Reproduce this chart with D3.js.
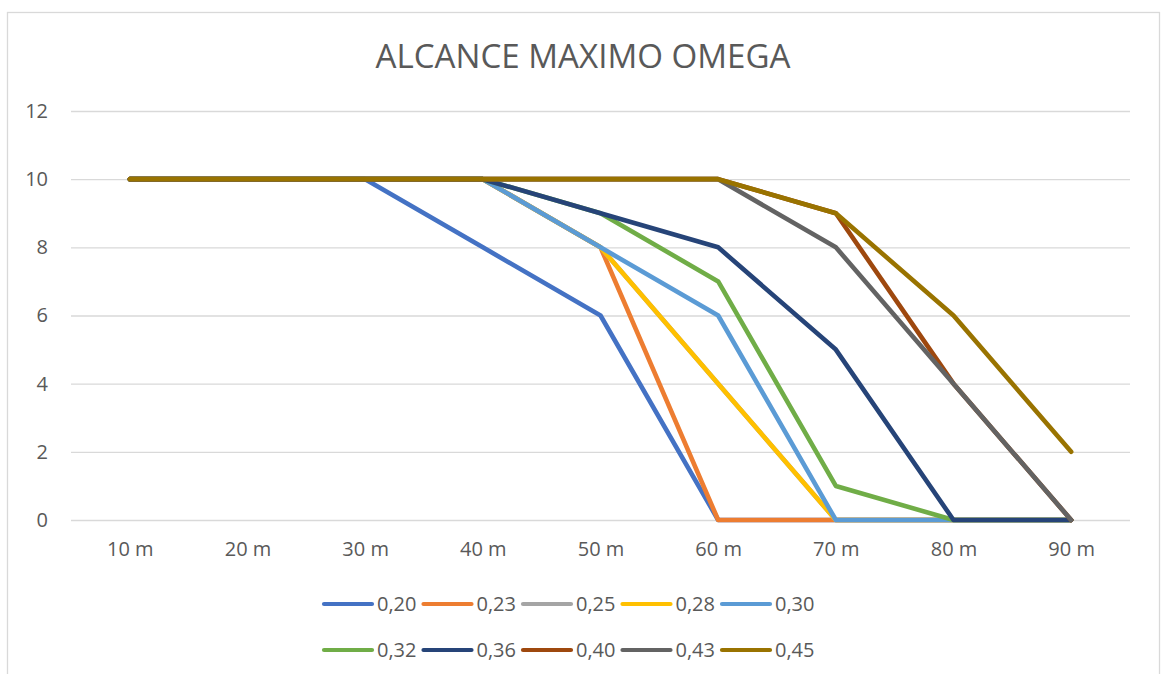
<!DOCTYPE html>
<html>
<head>
<meta charset="utf-8">
<script src="https://cdn.jsdelivr.net/npm/d3@7"></script>
<style>
html,body{margin:0;padding:0;background:#fff;}
svg{display:block;font-family:"Open Sans",sans-serif;}
</style>
</head>
<body>
<svg id="chart" width="1162" height="674"></svg>
<script>
const title = "ALCANCE MAXIMO OMEGA";
const categories = ["10 m","20 m","30 m","40 m","50 m","60 m","70 m","80 m","90 m"];
const yTicks = [0,2,4,6,8,10,12];
const seriesNames = ["0,20","0,23","0,25","0,28","0,30","0,32","0,36","0,40","0,43","0,45"];
const s020 = [10,10,10,8,6,0,0,0,0];
const s023 = [10,10,10,10,8,0,0,0,0];
const s025 = [10,10,10,10,8,4,0,0,0];
const s028 = [10,10,10,10,8,4,0,0,0];
const s030 = [10,10,10,10,8,6,0,0,0];
const s032 = [10,10,10,10,9,7,1,0,0];
const s036 = [10,10,10,10,9,8,5,0,0];
const s040 = [10,10,10,10,10,10,9,4,0];
const s043 = [10,10,10,10,10,10,8,4,0];
const s045 = [10,10,10,10,10,10,9,6,2];
const seriesValues = [s020,s023,s025,s028,s030,s032,s036,s040,s043,s045];
const colors = ["#4472C4","#ED7D31","#A5A5A5","#FFC000","#5B9BD5","#70AD47","#264478","#9E480E","#636363","#997300"];

const svg = d3.select("#chart");
const textColor = "#595959";

// outer border
svg.append("rect").attr("x",7.5).attr("y",12.5).attr("width",1152).attr("height",700)
  .attr("fill","none").attr("stroke","#D9D9D9").attr("stroke-width",1.3);

// title
const t = svg.append("text").attr("x",583).attr("y",68).attr("text-anchor","middle")
  .attr("fill",textColor).style("font-size","34px").text(title);
const tw = t.node().getComputedTextLength();
t.style("font-size",(34*415/tw).toFixed(2)+"px");

const x = d3.scalePoint().domain(categories).range([71,1130]).padding(0.5);
const y = d3.scaleLinear().domain([0,12]).range([520,111]);

// gridlines
const yAxis = d3.axisLeft(y).tickValues(yTicks).tickSize(-(1130-71)).tickPadding(23);
const gy = svg.append("g").attr("transform","translate(71,0)").call(yAxis);
gy.select(".domain").remove();
gy.selectAll(".tick line").attr("stroke","#D9D9D9").attr("stroke-width",1.3);
gy.selectAll(".tick text").attr("fill",textColor).style("font-size","20px").style("font-family","Open Sans");

const xAxis = d3.axisBottom(x).tickSize(0).tickPadding(22);
const gx = svg.append("g").attr("transform","translate(0,520)").call(xAxis);
gx.select(".domain").remove();
gx.selectAll(".tick text").attr("fill",textColor).style("font-size","20px").style("font-family","Open Sans");

const line = d3.line().x((d,i)=>x(categories[i])).y(d=>y(d));
seriesValues.forEach((vals,k)=>{
  svg.append("path").datum(vals).attr("d",line).attr("fill","none")
    .attr("stroke",colors[k]).attr("stroke-width",4.6)
    .attr("stroke-linecap","round").attr("stroke-linejoin","round");
});

// legend
const legendX = d3.scaleLinear().domain([0,4]).range([322,720]);
const legendRows = [604,650];
seriesNames.forEach((name,k)=>{
  const col = k%5, row = Math.floor(k/5);
  const lx = legendX(col), ly = legendRows[row];
  svg.append("line").attr("x1",lx+2).attr("x2",lx+50).attr("y1",ly).attr("y2",ly)
    .attr("stroke",colors[k]).attr("stroke-width",4.2).attr("stroke-linecap","round");
  svg.append("text").attr("x",lx+55).attr("y",ly).attr("dy","0.35em")
    .attr("fill",textColor).style("font-size","20px").text(name);
});
</script>
</body>
</html>
